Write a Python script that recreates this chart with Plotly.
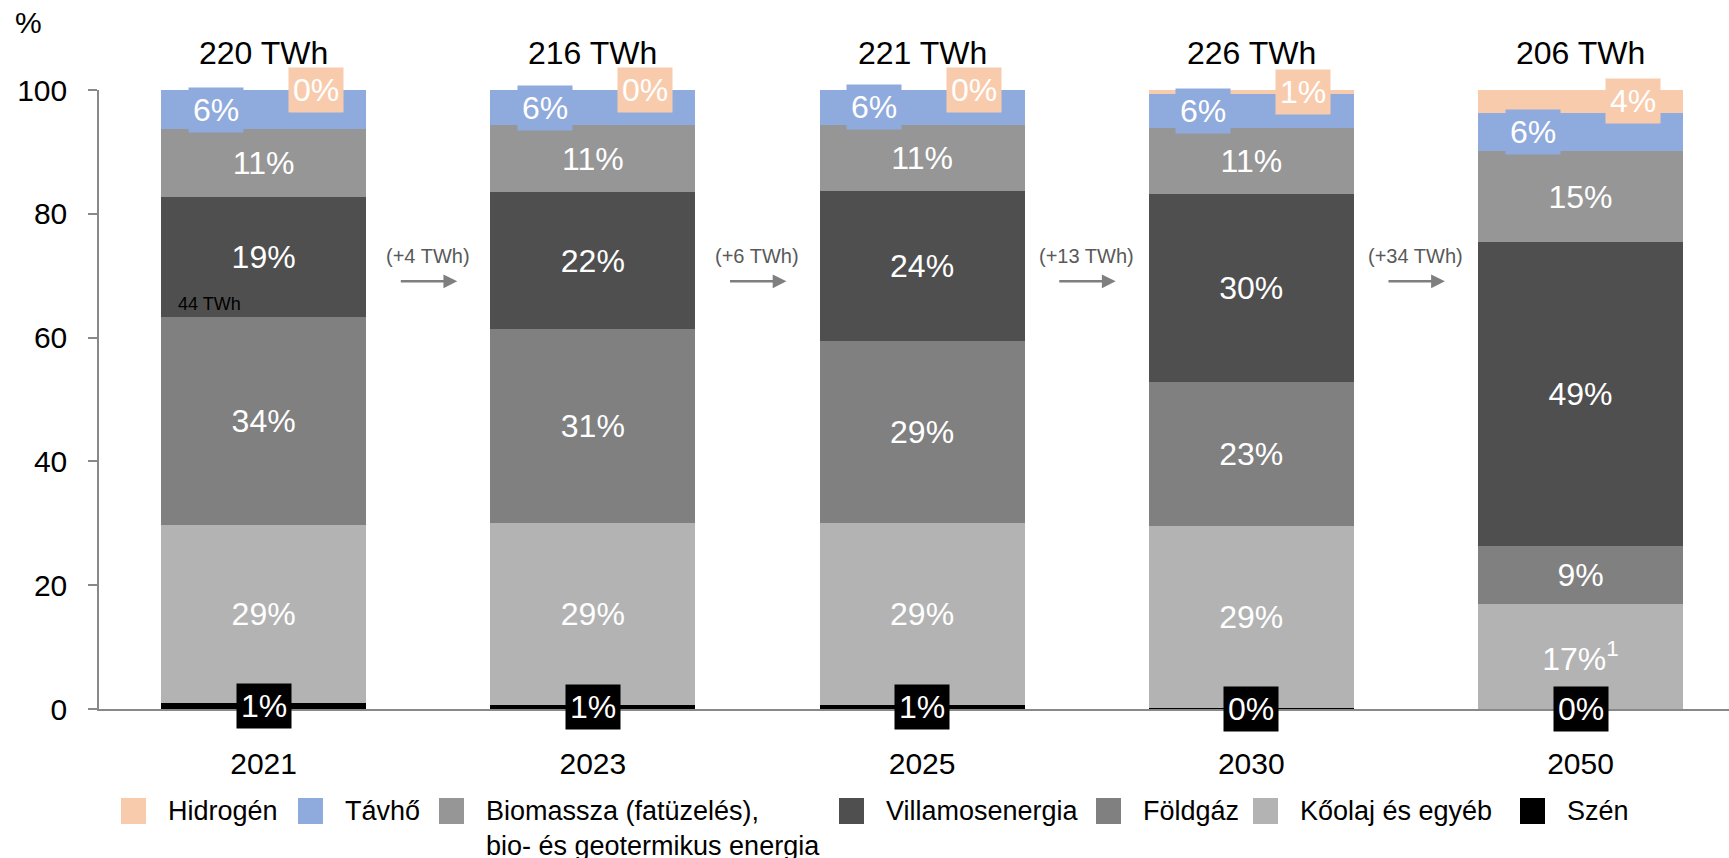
import plotly.graph_objects as go

# ---- data -------------------------------------------------------------
years = ["2021", "2023", "2025", "2030", "2050"]
totals_twh = [220, 216, 221, 226, 206]
villamos_growth = ["+4", "+6", "+13", "+34"]   # change between consecutive years
villamos_2021_twh = 44

# shares of final energy use (%)
szen = [0.9, 0.7, 0.6, 0.1, 0.0]
koolaj = [28.8, 29.4, 29.4, 29.4, 16.9]
foldgaz = [33.6, 31.3, 29.4, 23.4, 9.4]
villamos = [19.4, 22.1, 24.3, 30.3, 49.1]
biomassza = [11.0, 10.8, 10.7, 10.6, 14.7]
tavho = [6.3, 5.7, 5.6, 5.6, 6.2]
hidrogen = [0.0, 0.0, 0.0, 0.6, 3.7]

series = [
    ("Szén", szen, "#000000"),
    ("Kőolaj és egyéb", koolaj, "#B3B3B3"),
    ("Földgáz", foldgaz, "#808080"),
    ("Villamosenergia", villamos, "#4F4F4F"),
    ("Biomassza (fatüzelés),<br>bio- és geotermikus energia", biomassza, "#969696"),
    ("Távhő", tavho, "#8FAADC"),
    ("Hidrogén", hidrogen, "#F8CBAD"),
]

FONT = "Liberation Sans, Arial, sans-serif"
BIG = 32
W, H = 1729, 858
ML, MR, MT, MB = 99, 0, 90, 149
PW, PH = W - ML - MR, H - MT - MB

fig = go.Figure()

# segments labelled in the middle of the bar
inside_labels = {"Kőolaj és egyéb", "Földgáz", "Villamosenergia",
                 "Biomassza (fatüzelés),<br>bio- és geotermikus energia"}

for name, vals, color in series:
    if name in inside_labels:
        tmpl = ["%{y:.0f}%"] * len(vals)
        if name == "Kőolaj és egyéb":
            tmpl[-1] = "%{y:.0f}%<sup>1</sup>"
        fig.add_trace(go.Bar(
            x=years, y=vals, name=name, marker_color=color,
            marker_line_width=0,
            texttemplate=tmpl, textposition="inside",
            insidetextanchor="middle", textangle=0,
            insidetextfont=dict(family=FONT, size=BIG, color="white"),
            constraintext="none",
        ))
    else:
        fig.add_trace(go.Bar(x=years, y=vals, name=name, marker_color=color,
                             marker_line_width=0))

annotations = []

# cumulative bases
def base_of(idx, i):
    return sum(series[k][1][i] for k in range(idx))

for i, yr in enumerate(years):
    # total energy above each bar
    annotations.append(dict(x=i, y=100, xref="x", yref="y", text=f"{totals_twh[i]} TWh",
                            showarrow=False, yanchor="middle", yshift=37,
                            font=dict(family=FONT, size=BIG, color="black")))
    # coal label in a black box at the foot of the bar
    annotations.append(dict(x=i, y=szen[i] / 2, xref="x", yref="y",
                            text=f"{szen[i]:.0f}%", showarrow=False,
                            bgcolor="#000000", borderpad=4,
                            font=dict(family=FONT, size=BIG, color="white")))
    # district heating label, left side
    b = base_of(5, i)
    annotations.append(dict(x=i, y=b + tavho[i] / 2, xref="x", yref="y",
                            text=f"{tavho[i]:.0f}%", showarrow=False, xshift=-48,
                            bgcolor="#8FAADC", borderpad=4,
                            font=dict(family=FONT, size=BIG, color="white")))
    # hydrogen label, right side
    b = base_of(6, i)
    annotations.append(dict(x=i, y=b + hidrogen[i] / 2, xref="x", yref="y",
                            text=f"{hidrogen[i]:.0f}%", showarrow=False, xshift=52,
                            bgcolor="#F8CBAD", borderpad=4,
                            font=dict(family=FONT, size=BIG, color="white")))

# electricity in absolute terms for the first year
annotations.append(dict(x=0, y=base_of(3, 0), xref="x", yref="y",
                        text=f"{villamos_2021_twh} TWh", showarrow=False,
                        xanchor="left", yanchor="bottom", xshift=-88, yshift=1,
                        font=dict(family=FONT, size=18, color="black")))

# growth arrows between bars
for i, g in enumerate(villamos_growth):
    xm = i + 0.5
    annotations.append(dict(x=xm, y=73.2, xref="x", yref="y", text=f"({g} TWh)",
                            showarrow=False,
                            font=dict(family=FONT, size=20, color="#595959")))
    annotations.append(dict(x=xm + 0.088, y=69.1, ax=xm - 0.1, ay=69.1,
                            xref="x", yref="y", axref="x", ayref="y", text=" ",
                            showarrow=True, arrowhead=2, arrowsize=1.1,
                            arrowwidth=2.5, arrowcolor="#7F7F7F"))

# axis unit
annotations.append(dict(x=0, y=1, xref="paper", yref="paper", text="%",
                        showarrow=False, xshift=-86, yshift=86,
                        font=dict(family=FONT, size=30, color="black")))

# legend drawn as swatches + labels
def px_x(px):
    return (px - ML) / PW

def px_y(py):
    return (H - MB - py) / PH

legend_order = [6, 5, 4, 3, 2, 1, 0]
swatch_left = [121, 298, 439, 839, 1096, 1253, 1520]
shapes = []
for k, left in zip(legend_order, swatch_left):
    name, _, color = series[k]
    shapes.append(dict(type="rect", xref="paper", yref="paper",
                       x0=px_x(left), x1=px_x(left + 25),
                       y0=px_y(824), y1=px_y(798),
                       fillcolor=color, line_width=0))
    if "<br>" in name:
        annotations.append(dict(x=px_x(left + 45), y=px_y(794), xref="paper", yref="paper",
                                text=name, showarrow=False, xanchor="left", yanchor="top",
                                align="left",
                                font=dict(family=FONT, size=27, color="black")))
    else:
        annotations.append(dict(x=px_x(left + 45), y=px_y(811), xref="paper", yref="paper",
                                text=name, showarrow=False, xanchor="left", yanchor="middle",
                                font=dict(family=FONT, size=27, color="black")))

fig.update_layout(
    width=W, height=H,
    margin=dict(l=ML, r=MR, t=MT, b=MB, pad=0),
    barmode="stack", bargap=0.377,
    plot_bgcolor="white", paper_bgcolor="white",
    showlegend=False,
    font=dict(family=FONT, size=30, color="black"),
    annotations=annotations, shapes=shapes,
    xaxis=dict(type="category", range=[-0.5, 4.451], showline=True,
               linecolor="#898989", linewidth=2, ticks="", showgrid=False,
               zeroline=False, tickfont=dict(family=FONT, size=30, color="black"),
               ticklabelstandoff=27),
    yaxis=dict(range=[0, 100], tickvals=[0, 20, 40, 60, 80, 100], showline=True,
               linecolor="#898989", linewidth=1.5, ticks="outside", ticklen=9,
               tickcolor="#898989", tickwidth=1.5, showgrid=False, zeroline=False,
               tickfont=dict(family=FONT, size=30, color="black"),
               ticklabelstandoff=15),
)

fig.write_html("out.html")
